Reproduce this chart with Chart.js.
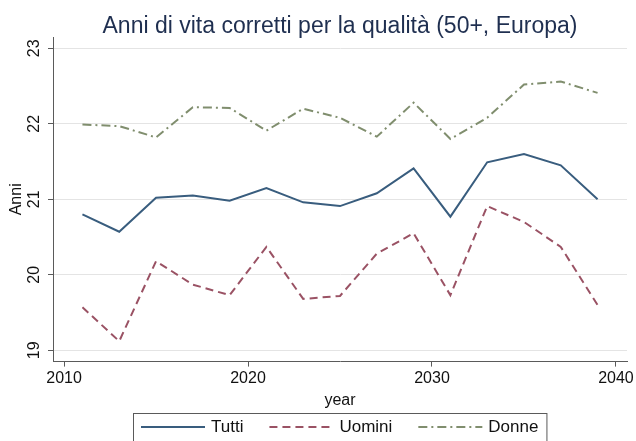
<!DOCTYPE html>
<html>
<head>
<meta charset="utf-8">
<script src="https://cdn.jsdelivr.net/npm/chart.js@4.4.1/dist/chart.umd.min.js"></script>
<style>
  html, body { margin: 0; padding: 0; background: #ffffff; }
  #wrap { width: 636px; height: 441px; }
</style>
</head>
<body>
<div id="wrap"><canvas id="chart" width="636" height="441"></canvas></div>
<script>
// dati
const years = [2011, 2013, 2015, 2017, 2019, 2021, 2023, 2025, 2027, 2029, 2031, 2033, 2035, 2037, 2039];
const tutti = [20.80, 20.57, 21.02, 21.05, 20.98, 21.15, 20.96, 20.91, 21.08, 21.41, 20.77, 21.49, 21.60, 21.45, 21.00];
const uomini = [19.57, 19.12, 20.18, 19.87, 19.73, 20.37, 19.68, 19.72, 20.28, 20.55, 19.73, 20.91, 20.70, 20.37, 19.60];
const donne = [21.99, 21.97, 21.82, 22.22, 22.21, 21.91, 22.20, 22.08, 21.83, 22.28, 21.80, 22.08, 22.52, 22.56, 22.41];
const xTicks = [2010, 2020, 2030, 2040];
const yTicks = [19, 20, 21, 22, 23];
const seriesNames = ['Tutti', 'Uomini', 'Donne'];
const titolo = 'Anni di vita corretti per la qualità (50+, Europa)';

const FONT = '"Liberation Sans", Arial, Helvetica, sans-serif';

function points(values) {
    return years.map((y, i) => ({ x: y, y: values[i] }));
}

// titolo centrato sull'area del grafico (come fa Stata)
const plotTitle = {
    id: 'plotTitle',
    afterDraw(chart) {
        const ctx = chart.ctx;
        const area = chart.chartArea;
        ctx.save();
        ctx.font = '23px ' + FONT;
        ctx.fillStyle = '#1f2f50';
        ctx.textAlign = 'center';
        ctx.textBaseline = 'alphabetic';
        ctx.fillText(titolo, (area.left + area.right) / 2, 33);
        ctx.restore();
    }
};

// legenda con cornice, come in Stata
const boxLegend = {
    id: 'boxLegend',
    afterDraw(chart) {
        const ctx = chart.ctx;
        const area = chart.chartArea;
        const sample = 64, gapText = 6, gapItem = 26, pad = 8;
        ctx.save();
        ctx.font = '17px ' + FONT;
        const widths = chart.data.datasets.map(ds => ctx.measureText(ds.label).width);
        let total = pad * 2 + gapItem * (widths.length - 1);
        widths.forEach(w => { total += sample + gapText + w; });
        const left = Math.round((area.left + area.right) / 2 - total / 2);
        const top = 413;
        ctx.strokeStyle = '#5a5a5a';
        ctx.lineWidth = 1;
        ctx.strokeRect(left + 0.5, top + 0.5, total, 40);
        const cy = top + 14;
        let x = left + pad;
        chart.data.datasets.forEach((ds, i) => {
            ctx.beginPath();
            ctx.setLineDash(ds.borderDash || []);
            ctx.strokeStyle = ds.borderColor;
            ctx.lineWidth = ds.borderWidth;
            ctx.moveTo(x, cy);
            ctx.lineTo(x + sample, cy);
            ctx.stroke();
            ctx.setLineDash([]);
            x += sample + gapText;
            ctx.fillStyle = '#111111';
            ctx.textBaseline = 'middle';
            ctx.textAlign = 'left';
            ctx.fillText(ds.label, x, cy);
            x += widths[i] + gapItem;
        });
        ctx.restore();
    }
};

new Chart(document.getElementById('chart').getContext('2d'), {
    type: 'line',
    data: {
        datasets: [
            {
                label: seriesNames[0],
                data: points(tutti),
                borderColor: '#395d7e',
                borderWidth: 2,
                pointRadius: 0,
                tension: 0,
                fill: false
            },
            {
                label: seriesNames[1],
                data: points(uomini),
                borderColor: '#9a5264',
                borderWidth: 2,
                borderDash: [8, 5],
                pointRadius: 0,
                tension: 0,
                fill: false
            },
            {
                label: seriesNames[2],
                data: points(donne),
                borderColor: '#808e6e',
                borderWidth: 2,
                borderDash: [9, 4, 2, 4],
                pointRadius: 0,
                tension: 0,
                fill: false
            }
        ]
    },
    options: {
        responsive: false,
        devicePixelRatio: 1,
        animation: false,
        layout: { padding: { left: 0, right: 9, top: 37, bottom: 31 } },
        plugins: {
            legend: { display: false },
            tooltip: { enabled: false },
            title: { display: false }
        },
        scales: {
            x: {
                type: 'linear',
                min: 2009.4,
                max: 2040.6,
                afterBuildTicks: scale => { scale.ticks = xTicks.map(v => ({ value: v })); },
                ticks: {
                    color: '#111111',
                    font: { family: FONT, size: 16 },
                    padding: 2,
                    maxRotation: 0,
                    callback: v => String(v)
                },
                grid: {
                    drawOnChartArea: false,
                    drawTicks: true,
                    tickLength: 5,
                    tickColor: '#5a5a5a'
                },
                border: { display: true, color: '#5a5a5a', width: 1 },
                title: {
                    display: true,
                    text: 'year',
                    color: '#111111',
                    font: { family: FONT, size: 16 },
                    padding: { top: 1, bottom: 0 }
                }
            },
            y: {
                min: 18.85,
                max: 23.15,
                afterBuildTicks: scale => { scale.ticks = yTicks.map(v => ({ value: v })); },
                afterFit: scale => { scale.width = 53; },
                ticks: {
                    color: '#111111',
                    font: { family: FONT, size: 16 },
                    padding: 5,
                    minRotation: 90,
                    maxRotation: 90,
                    crossAlign: 'center',
                    callback: v => String(v)
                },
                grid: {
                    color: '#e4e4e4',
                    lineWidth: 1,
                    drawTicks: true,
                    tickLength: 5,
                    tickColor: '#5a5a5a'
                },
                border: { display: true, color: '#5a5a5a', width: 1 },
                title: {
                    display: true,
                    text: 'Anni',
                    color: '#111111',
                    font: { family: FONT, size: 16 },
                    padding: { top: 7, bottom: 0 }
                }
            }
        }
    },
    plugins: [plotTitle, boxLegend]
});
</script>
</body>
</html>
